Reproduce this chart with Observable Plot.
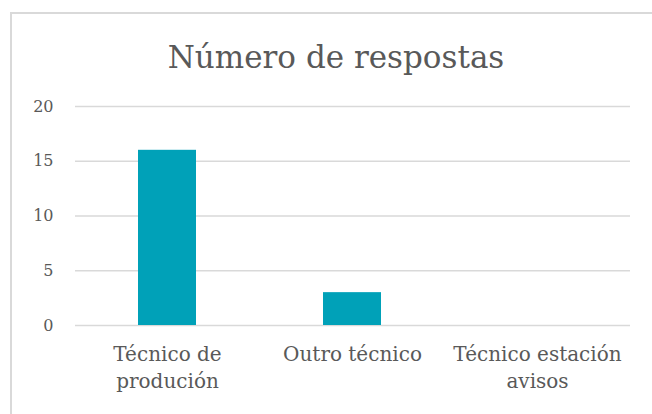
<!DOCTYPE html>
<html><head><meta charset="utf-8">
<script src="https://cdn.jsdelivr.net/npm/d3@7"></script>
<script src="https://cdn.jsdelivr.net/npm/@observablehq/plot@0.6"></script>
<style>
body{margin:0;background:#fff}
#wrap{position:relative;width:652px;height:414px;overflow:hidden;background:#fff}
#border{position:absolute;left:10px;top:12px;width:700px;height:500px;border:2px solid #d9d9d9;box-sizing:border-box}
#chart{position:absolute;left:0;top:0}
</style></head><body>
<div id="wrap"><div id="border"></div><div id="chart"></div></div>
<script>
const categories = ["Técnico de produción", "Outro técnico", "Técnico estación avisos"];
const values = [16, 3, 0];
const tickLabels = ["Técnico de\nprodución", "Outro técnico", "Técnico estación\navisos"];
const yTicks = [0, 5, 10, 15, 20];
const title = "Número de respostas";

const data = categories.map((c, i) => ({category: c, value: values[i]}));
const labelOf = new Map(categories.map((c, i) => [c, tickLabels[i]]));

const chart = Plot.plot({
  width: 652, height: 414,
  marginLeft: 75, marginRight: 22, marginTop: 106, marginBottom: 89,
  style: {fontFamily: "DejaVu Serif", background: "transparent", color: "#595959"},
  x: {domain: categories, paddingInner: 0.686, paddingOuter: 0.343},
  y: {domain: [0, 20]},
  marks: [
    Plot.ruleY(yTicks, {stroke: "#d9d9d9", strokeWidth: 1.5}),
    Plot.barY(data, {x: "category", y: "value", fill: "#00A1B8"}),
    Plot.axisY({ticks: yTicks, tickSize: 0, tickPadding: 22, fontSize: 16, fill: "#595959", label: null}),
    Plot.axisX({tickSize: 0, tickPadding: 16, tickFormat: d => labelOf.get(d), fontSize: 20, lineHeight: 1.35, fill: "#595959", label: null}),
    Plot.text([title], {frameAnchor: "top", dy: -61, dx: -17, fontSize: 31, fill: "#595959", text: d => d})
  ]
});
document.getElementById("chart").appendChild(chart);
</script>
</body></html>
